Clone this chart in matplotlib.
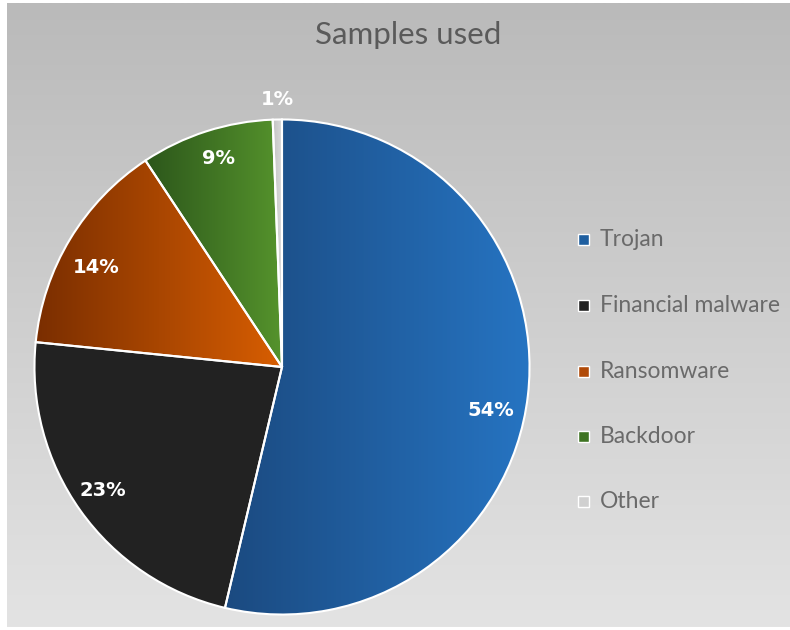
import numpy as np
import matplotlib.pyplot as plt
from matplotlib.colors import LinearSegmentedColormap

categories = ["Trojan", "Financial malware", "Ransomware", "Backdoor", "Other"]
shares = [53.7, 22.9, 14.1, 8.7, 0.6]
# цвет слева (тёмный) и справа (светлый) для градиента
dark_cols = ["#1b4a80", "#222222", "#7a2e00", "#2c561b", "#c4c4c4"]
light_cols = ["#2674c2", "#232323", "#d85e02", "#55932c", "#dcdcdc"]
legend_cols = ["#1f5fa0", "#222222", "#b04a08", "#3f7423", "#d0d0d0"]
label_dist = [0.86, 0.88, 0.85, 0.88, 1.08]
label_shift = [-5, -1, 3, -1, 0]

plt.rcParams['font.family'] = ['Lato', 'DejaVu Sans']

fig = plt.figure(figsize=(7.9, 6.3), dpi=100, facecolor="white")

# фон с вертикальным градиентом
bg = fig.add_axes([7 / 790, 3 / 630, 783 / 790, 624 / 630])
grad = np.linspace(0, 1, 256).reshape(-1, 1)
bg_cmap = LinearSegmentedColormap.from_list("bg", ["#e3e3e3", "#bababa"])
bg.imshow(grad, aspect="auto", cmap=bg_cmap, origin="lower", extent=(0, 1, 0, 1))
bg.set_axis_off()

ax = fig.add_axes([32 / 790, 13 / 630, 500 / 790, 500 / 630])
ax.set_axis_off()
wedges, _ = ax.pie(shares, startangle=90, counterclock=False, radius=1,
                   wedgeprops=dict(edgecolor="white", linewidth=1.5))

hgrad = np.linspace(0, 1, 256).reshape(1, -1)
for w, c0, c1 in zip(wedges, dark_cols, light_cols):
    bb = w.get_path().get_extents(w.get_patch_transform())
    cm = LinearSegmentedColormap.from_list("g", [c0, c1])
    im = ax.imshow(hgrad, aspect="auto", cmap=cm,
                   extent=(bb.x0, bb.x1, bb.y0, bb.y1), zorder=1)
    im.set_clip_path(w)
    w.set_facecolor("none")
    w.set_zorder(2)

for w, v, d, s in zip(wedges, shares, label_dist, label_shift):
    ang = np.deg2rad((w.theta1 + w.theta2) / 2 + s)
    ax.text(d * np.cos(ang), d * np.sin(ang), f"{round(v):.0f}%",
            ha="center", va="center", color="white", fontsize=14,
            fontweight="bold", family=["DejaVu Sans"], zorder=3)

ax.set_xlim(-1.01, 1.01)
ax.set_ylim(-1.01, 1.01)
ax.set_aspect("equal")

fig.text(408 / 790, 1 - 35 / 630, "Samples used", ha="center", va="center",
         fontsize=22.5, color="#5a5a5a")

# легенда
for i, (name, col) in enumerate(zip(categories, legend_cols)):
    y = 1 - (240 + i * 65.5) / 630
    fig.patches.append(plt.Rectangle((578 / 790, y - 5.5 / 630), 11 / 790, 11 / 630,
                                     transform=fig.transFigure, facecolor=col,
                                     edgecolor="white", linewidth=1.0))
    fig.text(600 / 790, y, name, ha="left", va="center", fontsize=16.5, color="#6a6a6a")

fig.savefig("out.png", dpi=100, facecolor="white")
